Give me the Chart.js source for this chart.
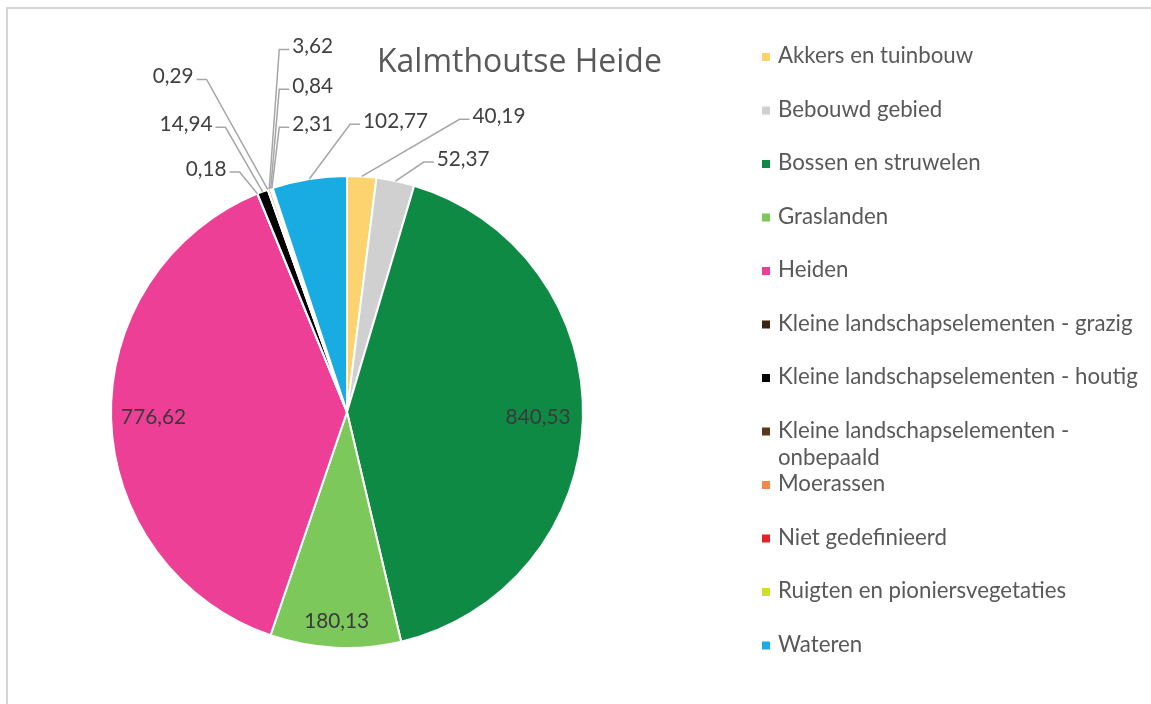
<!DOCTYPE html>
<html>
<head>
<meta charset="utf-8">
<script src="https://cdn.jsdelivr.net/npm/chart.js@4.4.1/dist/chart.umd.min.js"></script>
<style>
  html, body { margin: 0; padding: 0; background: #ffffff; }
  #wrap { position: relative; width: 1151px; height: 704px; }
  canvas { display: block; }
</style>
</head>
<body>
<div id="wrap"><canvas id="c" width="1151" height="704" style="width:1151px;height:704px"></canvas></div>
<script>
// ---- data ----
const chartTitle = 'Kalmthoutse Heide';
const categories = [
  'Akkers en tuinbouw',
  'Bebouwd gebied',
  'Bossen en struwelen',
  'Graslanden',
  'Heiden',
  'Kleine landschapselementen - grazig',
  'Kleine landschapselementen - houtig',
  'Kleine landschapselementen - onbepaald',
  'Moerassen',
  'Niet gedefinieerd',
  'Ruigten en pioniersvegetaties',
  'Wateren'
];
const areaValues = [40.19, 52.37, 840.53, 180.13, 776.62, 0.18, 14.94, 0.29, 3.62, 0.84, 2.31, 102.77];
// legend lines (wrapping as in the original)
const legendLines = [
  ['Akkers en tuinbouw'],
  ['Bebouwd gebied'],
  ['Bossen en struwelen'],
  ['Graslanden'],
  ['Heiden'],
  ['Kleine landschapselementen - grazig'],
  ['Kleine landschapselementen - houtig'],
  ['Kleine landschapselementen -', 'onbepaald'],
  ['Moerassen'],
  ['Niet gedefinieerd'],
  ['Ruigten en pioniersvegetaties'],
  ['Wateren']
];

// ---- styles ----
const sliceColors = ['#FDD36F', '#D0D0D0', '#0F8A45', '#7DC85B', '#EE3F97', '#3B2314',
                     '#000000', '#5B381C', '#F08A4B', '#E3232C', '#CBE02C', '#18ACE3'];
// label layout: inside labels use a radial factor; outside labels use an offset (in radius units) from centre
const labelLayout = [
  { out: true, dx: 0.532, dy: -1.253, align: 'left' },
  { out: true, dx: 0.380, dy: -1.072, align: 'left' },
  { out: false, f: 0.81 },
  { out: false, f: 0.89 },
  { out: false, f: 0.82 },
  { out: true, dx: -0.510, dy: -1.030, align: 'right' },
  { out: true, dx: -0.570, dy: -1.219, align: 'right' },
  { out: true, dx: -0.650, dy: -1.422, align: 'right' },
  { out: true, dx: -0.232, dy: -1.549, align: 'left' },
  { out: true, dx: -0.232, dy: -1.380, align: 'left' },
  { out: true, dx: -0.232, dy: -1.219, align: 'left' },
  { out: true, dx: 0.068, dy: -1.232, align: 'left' }
];

function fmt(v) { return v.toFixed(2).replace('.', ','); }
function fitSize(ctx, text, family, target) {
  ctx.font = '100px ' + family;
  return 100 * target / ctx.measureText(text).width;
}

const decorPlugin = {
  id: 'decor',
  beforeDraw(chart) {
    const ctx = chart.ctx;
    ctx.save();
    ctx.fillStyle = '#ffffff';
    ctx.fillRect(0, 0, chart.width, chart.height);
    ctx.fillStyle = '#D6D6D6';
    ctx.fillRect(6, 7, chart.width - 6, 2);
    ctx.fillRect(6, 7, 2, chart.height - 7);
    ctx.restore();
  },
  afterDraw(chart) {
    const ctx = chart.ctx;
    ctx.save();
    // title
    const tFam = '"Open Sans", sans-serif';
    const tSize = fitSize(ctx, chartTitle, tFam, 285);
    ctx.font = tSize + 'px ' + tFam;
    ctx.fillStyle = '#595959';
    ctx.textAlign = 'left';
    ctx.textBaseline = 'alphabetic';
    ctx.fillText(chartTitle, 377, 72);

    // data labels
    const meta = chart.getDatasetMeta(0);
    const lFam = 'Lato, sans-serif';
    const lSize = fitSize(ctx, '102,77', lFam, 65);
    ctx.font = lSize + 'px ' + lFam;
    ctx.textBaseline = 'middle';
    meta.data.forEach((arc, i) => {
      const p = arc.getProps(['x', 'y', 'startAngle', 'endAngle', 'outerRadius'], true);
      const mid = (p.startAngle + p.endAngle) / 2;
      const lay = labelLayout[i];
      const txt = fmt(areaValues[i]);
      if (!lay.out) {
        const r = p.outerRadius * lay.f;
        ctx.fillStyle = '#3A3A3A';
        ctx.textAlign = 'center';
        ctx.fillText(txt, p.x + Math.cos(mid) * r, p.y + Math.sin(mid) * r);
      } else {
        const tx = p.x + lay.dx * p.outerRadius;
        const ty = p.y + lay.dy * p.outerRadius;
        const ax = p.x + Math.cos(mid) * p.outerRadius;
        const ay = p.y + Math.sin(mid) * p.outerRadius;
        const s = lay.align === 'left' ? -1 : 1;
        ctx.strokeStyle = '#A6A6A6';
        ctx.lineWidth = 1.5;
        ctx.beginPath();
        ctx.moveTo(ax, ay);
        ctx.lineTo(tx + s * 13, ty + 3);
        ctx.lineTo(tx + s * 3, ty + 3);
        ctx.stroke();
        ctx.fillStyle = '#404040';
        ctx.textAlign = lay.align;
        ctx.fillText(txt, tx, ty);
      }
    });

    // legend
    const gFam = 'Lato, sans-serif';
    const gSize = fitSize(ctx, 'Kleine landschapselementen - houtig', gFam, 360);
    ctx.font = gSize + 'px ' + gFam;
    ctx.textAlign = 'left';
    ctx.textBaseline = 'alphabetic';
    legendLines.forEach((lines, i) => {
      const base = 63 + 53.5 * i;
      ctx.fillStyle = sliceColors[i];
      ctx.fillRect(762, base - 10, 8, 8);
      ctx.fillStyle = '#595959';
      lines.forEach((ln, j) => ctx.fillText(ln, 778, base + j * 27));
    });
    ctx.restore();
  }
};

new Chart(document.getElementById('c'), {
  type: 'pie',
  data: {
    labels: categories,
    datasets: [{
      data: areaValues,
      backgroundColor: sliceColors,
      borderColor: '#ffffff',
      borderWidth: 2
    }]
  },
  options: {
    responsive: false,
    animation: false,
    layout: { padding: { left: 110, right: 567, top: 175, bottom: 55 } },
    plugins: {
      legend: { display: false },
      tooltip: { enabled: false },
      title: { display: false }
    }
  },
  plugins: [decorPlugin]
});
</script>
</body>
</html>
